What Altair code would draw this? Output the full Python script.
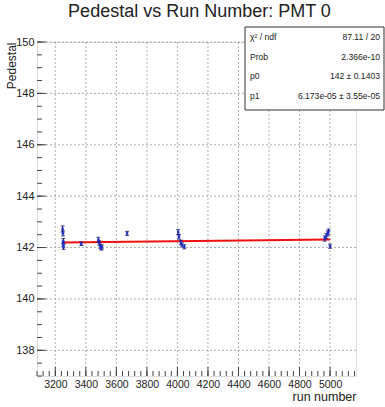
import altair as alt
import pandas as pd

# Pedestal measurements per run (PMT 0)
runs = [3248, 3250, 3252, 3252, 3254, 3370, 3482, 3488, 3495, 3500, 3505,
        3670, 4005, 4010, 4022, 4030, 4045, 4965, 4975, 4985, 4990, 5000]
pedestal = [142.72, 142.55, 142.25, 142.12, 142.02, 142.15, 142.30, 142.18,
            142.05, 141.98, 142.02, 142.55, 142.60, 142.42, 142.20, 142.10,
            142.03, 142.35, 142.45, 142.55, 142.62, 142.05]
pedestal_err = [0.12, 0.10, 0.10, 0.09, 0.09, 0.07, 0.10, 0.09, 0.08, 0.08,
                0.08, 0.08, 0.10, 0.09, 0.09, 0.08, 0.08, 0.10, 0.10, 0.10,
                0.10, 0.08]

# Linear fit results
p0 = 142.0
p1 = 6.173e-05
stats_names = ["\u03c7\u00b2 / ndf", "Prob", "p0", "p1"]
stats_values = ["87.11 / 20", "2.366e-10", "142 \u00b1 0.1403", "6.173e-05 \u00b1 3.55e-05"]

x_major = [3200, 3400, 3600, 3800, 4000, 4200, 4400, 4600, 4800, 5000]
y_major = [138, 140, 142, 144, 146, 148, 150]
x_minor = [v for v in range(3080, 5170, 40)]
y_minor = [137 + 0.5 * i for i in range(27)]

XDOM = [3080, 5170]
YDOM = [137, 150]
W, H = 319, 334
FONT = "Liberation Sans"

df = pd.DataFrame({"run": runs, "ped": pedestal, "err": pedestal_err})
df["lo"] = df["ped"] - df["err"]
df["hi"] = df["ped"] + df["err"]

fit_x = [min(runs), max(runs)]
fit = pd.DataFrame({"run": fit_x, "ped": [p0 + p1 * x for x in fit_x]})

xs = alt.Scale(domain=XDOM, nice=False, zero=False)
ys = alt.Scale(domain=YDOM, nice=False, zero=False)

# Shared axis definitions, used identically in every layer so they merge
x_axis = alt.Axis(
    values=x_major, format="d", grid=False, ticks=False, domain=False,
    labelOverlap=False, labelFontSize=10.5, labelColor="#222", labelPadding=3,
    labelFont=FONT, title="run number", titleFontSize=12.5,
    titleFontWeight="normal", titleColor="#222", titleFont=FONT,
    titleAnchor="end", titlePadding=1)
y_axis = alt.Axis(
    values=y_major, format="d", grid=False, ticks=False, domain=False,
    labelOverlap=False, labelFontSize=11, labelColor="#222", labelPadding=3,
    labelFont=FONT, title="Pedestal", titleFontSize=12,
    titleFontWeight="normal", titleColor="#222", titleFont=FONT,
    titleAnchor="end", titleX=-19, titleY=0,
    titleAlign="right", titleBaseline="bottom")


def X(field):
    return alt.X(field, scale=xs, axis=x_axis, title="run number")


def Y(field):
    return alt.Y(field, scale=ys, axis=y_axis, title="Pedestal")


grid_x = alt.Chart(pd.DataFrame({"v": x_major})).mark_rule(
    color="#999999", strokeDash=[2, 2], strokeWidth=0.8
).encode(x=X("v:Q"))
grid_y = alt.Chart(pd.DataFrame({"v": y_major})).mark_rule(
    color="#999999", strokeDash=[2, 2], strokeWidth=0.8
).encode(y=Y("v:Q"))

tick_xM = alt.Chart(pd.DataFrame({"v": x_major})).mark_rule(color="#444").encode(
    x=X("v:Q"), y=alt.value(H), y2=alt.value(H - 9))
tick_xm = alt.Chart(pd.DataFrame({"v": x_minor})).mark_rule(color="#444").encode(
    x=X("v:Q"), y=alt.value(H), y2=alt.value(H - 5))
tick_yM = alt.Chart(pd.DataFrame({"v": y_major})).mark_rule(color="#444").encode(
    y=Y("v:Q"), x=alt.value(0), x2=alt.value(9))
tick_ym = alt.Chart(pd.DataFrame({"v": y_minor})).mark_rule(color="#444").encode(
    y=Y("v:Q"), x=alt.value(0), x2=alt.value(5))

bars = alt.Chart(df).mark_rule(color="#000066", strokeWidth=1).encode(
    x=X("run:Q"), y=Y("lo:Q"), y2="hi:Q")
caps_lo = alt.Chart(df).mark_tick(color="#000066", thickness=1, size=4,
                                  orient="horizontal").encode(
    x=X("run:Q"), y=Y("lo:Q"))
caps_hi = alt.Chart(df).mark_tick(color="#000066", thickness=1, size=4,
                                  orient="horizontal").encode(
    x=X("run:Q"), y=Y("hi:Q"))
pts = alt.Chart(df).mark_point(shape="square", filled=True, size=6,
                               color="#2233cc", opacity=1).encode(
    x=X("run:Q"), y=Y("ped:Q"))

fit_line = alt.Chart(fit).mark_line(color="#ee1111", strokeWidth=2).encode(
    x=X("run:Q"), y=Y("ped:Q"))

# Fit statistics box in the upper right corner
box = alt.Chart(pd.DataFrame({"a": [0]})).mark_rect(
    fill="white", stroke="#333", strokeWidth=1).encode(
    x=alt.value(208), x2=alt.value(347), y=alt.value(-15), y2=alt.value(68))

row_y = [-5, 15, 34, 54]
stat_layers = []
for name, val, yy in zip(stats_names, stats_values, row_y):
    one = pd.DataFrame({"name": [name], "val": [val]})
    stat_layers.append(alt.Chart(one).mark_text(
        align="left", baseline="middle", fontSize=8.6, font=FONT, color="#222"
    ).encode(x=alt.value(213), y=alt.value(yy), text="name:N"))
    stat_layers.append(alt.Chart(one).mark_text(
        align="right", baseline="middle", fontSize=8.6, font=FONT, color="#222"
    ).encode(x=alt.value(343), y=alt.value(yy), text="val:N"))

chart = alt.layer(
    grid_x, grid_y, tick_xM, tick_xm, tick_yM, tick_ym,
    fit_line, bars, caps_lo, caps_hi, pts,
    box, *stat_layers
).properties(
    width=W, height=H,
    autosize="none",
    padding={"left": 37, "top": 42, "right": 29, "bottom": 31},
    title=alt.TitleParams("Pedestal vs Run Number: PMT 0", fontSize=18,
                          fontWeight="normal", font=FONT,
                          color="#222", anchor="middle", frame="group",
                          dx=3, offset=6),
).configure_view(stroke="#555", strokeWidth=1.2).configure(background="white")

chart.save("out.html", embed_options={"renderer": "svg", "actions": False})
